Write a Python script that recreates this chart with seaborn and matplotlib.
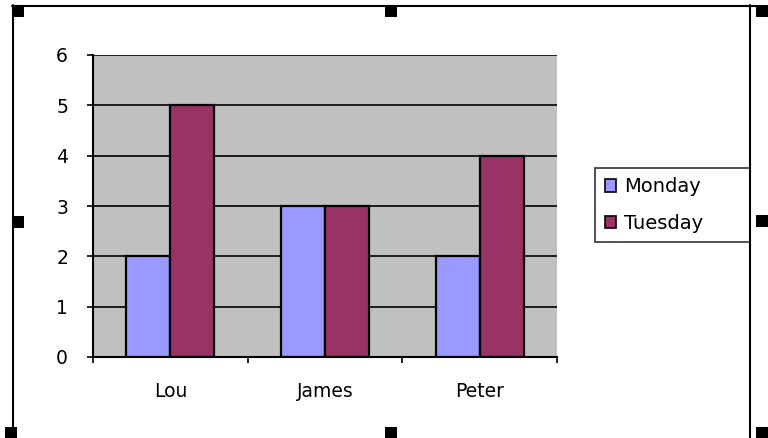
import pandas as pd
import numpy as np
import matplotlib.pyplot as plt
import seaborn as sns
from matplotlib.patches import Rectangle
from matplotlib.lines import Line2D

# Chart values
names = ['Lou', 'James', 'Peter']
monday = [2, 3, 2]
tuesday = [5, 3, 4]
days = ['Monday', 'Tuesday']
colors = ['#9999FF', '#993366']

df = pd.DataFrame({
    'name': names * 2,
    'day': ['Monday'] * 3 + ['Tuesday'] * 3,
    'value': monday + tuesday,
})

sns.set_style('white')
plt.rcParams['font.family'] = ['DejaVu Sans']
plt.rcParams['text.color'] = 'black'
plt.rcParams['xtick.color'] = 'black'
plt.rcParams['ytick.color'] = 'black'

W, H = 768, 438
fig = plt.figure(figsize=(W / 100, H / 100), dpi=100)
fig.patch.set_facecolor('white')

# plot area in pixels: x 93-557, y 55-357
ax = fig.add_axes([93 / W, 1 - 357 / H, (557 - 93) / W, (357 - 55) / H])
ax.set_facecolor('#C0C0C0')

sns.barplot(data=df, x='name', y='value', hue='day', hue_order=days,
            palette=colors, width=0.57, edgecolor='black', linewidth=1.6,
            saturation=1, ax=ax, legend=True)

ax.set_ylim(0, 6)
ax.set_xlim(-0.5, 2.5)
ax.set_yticks(range(7))
ax.yaxis.grid(True, color='black', linewidth=1.2)
ax.set_axisbelow(True)
ax.set_xlabel('')
ax.set_ylabel('')

for s in ['top', 'right']:
    ax.spines[s].set_visible(False)
for s in ['left', 'bottom']:
    ax.spines[s].set_color('black')
    ax.spines[s].set_linewidth(1.5)

# ticks
ax.tick_params(axis='y', direction='out', length=4, width=1.2, color='black',
               pad=14, labelsize=13.5, labelcolor='black', left=True)
ax.tick_params(axis='x', which='major', length=0, pad=18, labelsize=13.5,
               labelcolor='black')
ax.set_xticks([-0.5, 0.5, 1.5, 2.5], minor=True)
ax.tick_params(axis='x', which='minor', direction='out', length=4, width=1.2,
               color='black', bottom=True)

# legend
ax.legend_.remove()
handles = [Rectangle((0, 0), 1, 1, facecolor=c, edgecolor='black', lw=1.2)
           for c in colors]
leg = ax.legend(handles, days, loc='center',
                bbox_to_anchor=(595 / W, 1 - 243 / H, 155 / W, 76 / H),
                bbox_transform=fig.transFigure, mode='expand',
                fontsize=14, frameon=True, fancybox=False, shadow=False,
                handlelength=0.6, handleheight=0.6, handletextpad=0.4,
                labelspacing=0.9, borderpad=0.5, borderaxespad=0)
leg.get_frame().set_edgecolor('black')
leg.get_frame().set_linewidth(1.2)
for t in leg.get_texts():
    t.set_color('black')


# chart frame and selection handles (pixel coords, top-left origin)
def px(x, y):
    return x / W, 1 - y / H


for xs, ys in [((12, 756), (5.5, 5.5)), ((12.5, 12.5), (5, 438)),
               ((750, 750), (5, 438))]:
    p0 = px(xs[0], ys[0])
    p1 = px(xs[1], ys[1])
    fig.lines.append(Line2D([p0[0], p1[0]], [p0[1], p1[1]],
                            transform=fig.transFigure, color='black', lw=1.5))

size = 12
for hx, hy in [(12, 5), (385, 5), (756, 5), (12, 216), (756, 215),
               (5, 427), (385, 427), (756, 427)]:
    x0, y0 = px(hx, hy + size)
    fig.patches.append(Rectangle((x0, y0), size / W, size / H,
                                 transform=fig.transFigure,
                                 facecolor='black', edgecolor='none'))

plt.savefig('out.png', dpi=100)
